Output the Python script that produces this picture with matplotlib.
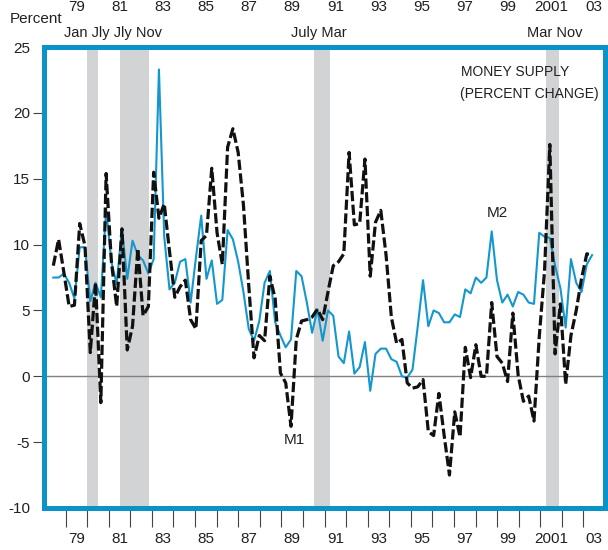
import numpy as np
import matplotlib
matplotlib.use('Agg')
import matplotlib.pyplot as plt
import matplotlib.transforms as mtransforms

plt.rcParams['font.family'] = ['Liberation Sans', 'DejaVu Sans']

# quarterly growth rates, percent, mid 1978 .. early 2003
m1 = [8.4, 10.4, 7.9, 5.3, 5.4, 11.6, 9.9, 1.8, 7.1, -2.0, 15.4, 8.7, 5.3,
      11.2, 2.0, 3.8, 9.7, 4.6, 5.3, 15.5, 12.0, 13.1, 9.5, 6.0, 6.8,
      7.3, 4.3, 3.6, 10.3, 10.7, 15.8, 10.9, 8.5, 17.4, 18.8, 17.0, 13.0,
      6.9, 1.4, 3.1, 2.7, 7.6, 5.9, 0.25, -0.5, -3.8, 2.8, 4.2, 4.3, 4.5,
      5.1, 4.3, 6.4,
      8.4, 8.7, 9.3, 17.0, 11.5, 11.6, 16.5, 7.6, 11.7, 12.6, 9.2, 4.5,
      2.5, 2.8, -0.5, -0.9, -0.8, -0.25, -4.2, -4.5, -1.3, -4.5, -7.5,
      -2.7, -4.6,
      2.2, -0.1, 2.4, 0.0, 0.0, 5.6, 1.5, 1.0, -0.4, 4.8, 0.1, -1.9, -1.5,
      -3.4, 3.0, 8.0, 17.6, 1.7, 5.5, -0.6, 3.1, 5.0, 7.4, 9.3, 9.2]
m2 = [7.5, 7.5, 7.8, 7.1, 5.9, 9.8, 9.8, 5.7, 7.1, 6.0, 12.7, 8.7, 7.0,
      11.2, 7.4, 10.3, 9.2, 8.8, 7.8, 8.9, 23.3, 10.6, 6.6, 7.1, 8.7,
      8.9, 5.6, 9.0, 12.2, 7.4, 8.8, 5.5, 5.8, 11.1, 10.4, 8.7, 6.4, 3.6,
      2.7, 4.2, 7.1, 8.0, 4.1, 3.1, 2.2, 2.8, 8.0, 7.6, 5.6, 3.3, 5.1,
      2.7, 5.0,
      4.6, 1.5, 1.0, 3.4, 0.2, 0.7, 2.6, -1.1, 1.7, 2.1, 2.1, 1.3, 1.1,
      0.0, -0.1, 0.5, 3.8, 7.3, 3.8, 5.0, 4.8, 4.1, 4.1, 4.7, 4.5,
      6.6, 6.3, 7.5, 7.1, 7.5, 11.0, 7.3, 5.6, 6.2, 5.3, 6.4, 6.2, 5.6,
      5.5, 10.9, 10.6, 10.5, 8.4, 6.7, 3.7, 8.9, 7.1, 6.4, 8.5, 9.2]
quarters = np.linspace(1978.43, 2003.40, len(m1))

recessions = [(1980.0, 1980.5), (1981.5, 1982.88), (1990.5, 1991.25), (2001.25, 2001.88)]
recession_labels = [('Jan Jly Jly Nov', 1981.22), ('July Mar', 1990.75), ('Mar Nov', 2001.66)]
year_ticks = list(range(1979, 2004))
year_labels = ['79', '81', '83', '85', '87', '89', '91', '93', '95', '97', '99', '2001', '03']
y_ticks = [25, 20, 15, 10, 5, 0, -5, -10]

BLUE = '#0a93c8'
TXT = '#231f20'

fig = plt.figure(figsize=(6.08, 5.5), dpi=100)
ax = fig.add_axes([0.0724, 0.0764, 0.9227, 0.838])

for a, b in recessions:
    ax.axvspan(a, b, color='#d1d3d4', lw=0, zorder=0)
ax.axhline(0, color='#808080', lw=1.0, zorder=1)

ax.plot(quarters, m2, color='#1497cf', lw=1.5, zorder=3)
ax.plot(quarters, m1, color='#111111', lw=2.3, dashes=(3.2, 1.1), zorder=4)

ax.set_xlim(1978, 2004)
ax.set_ylim(-10, 25)

for s in ax.spines.values():
    s.set_color(BLUE)
    s.set_linewidth(3.6)

# x axis: year ticks, labels centred in odd years
ax.set_xticks(year_ticks)
ax.set_xticklabels([])
ax.tick_params(axis='x', which='major', direction='out', length=14, width=0.8, color='#444444')
odd_mid = [y + 0.5 for y in range(1979, 2004, 2)]
ax.set_xticks(odd_mid, minor=True)
ax.set_xticklabels(year_labels, minor=True, fontsize=11, color=TXT)
ax.tick_params(axis='x', which='minor', length=0, pad=17)

ax.set_yticks(y_ticks)
ax.set_yticklabels([str(v) for v in y_ticks], fontsize=11, color=TXT)
ax.tick_params(axis='y', direction='out', length=8, width=0.8, color='#444444', pad=2)
for t in (ax.yaxis.get_major_ticks()[0], ax.yaxis.get_major_ticks()[-1]):
    t.tick1line.set_visible(False)

# repeated year labels along the very top
trans = mtransforms.blended_transform_factory(ax.transData, ax.transAxes)
for x, lab in zip(odd_mid, year_labels):
    ax.text(x, 1.087, lab, transform=trans, ha='center', va='center',
            fontsize=11, color=TXT, clip_on=False)

for lab, x in recession_labels:
    ax.text(x, 1.031, lab, transform=trans, ha='center', va='center',
            fontsize=10.5, color=TXT, clip_on=False)

fig.text(10 / 608, 1 - 19 / 550, 'Percent', ha='left', va='center', fontsize=11, color=TXT)

ax.text(0.84, 0.946, 'MONEY SUPPLY', transform=ax.transAxes, ha='center', va='center',
        fontsize=10, color=TXT)
ax.text(0.865, 0.898, '(PERCENT CHANGE)', transform=ax.transAxes, ha='center', va='center',
        fontsize=10, color=TXT)

ax.text(1999.0, 12.4, 'M2', ha='center', va='center', fontsize=11, color=TXT)
ax.text(1989.62, -4.8, 'M1', ha='center', va='center', fontsize=11, color=TXT)

fig.savefig('out.png', dpi=100)
